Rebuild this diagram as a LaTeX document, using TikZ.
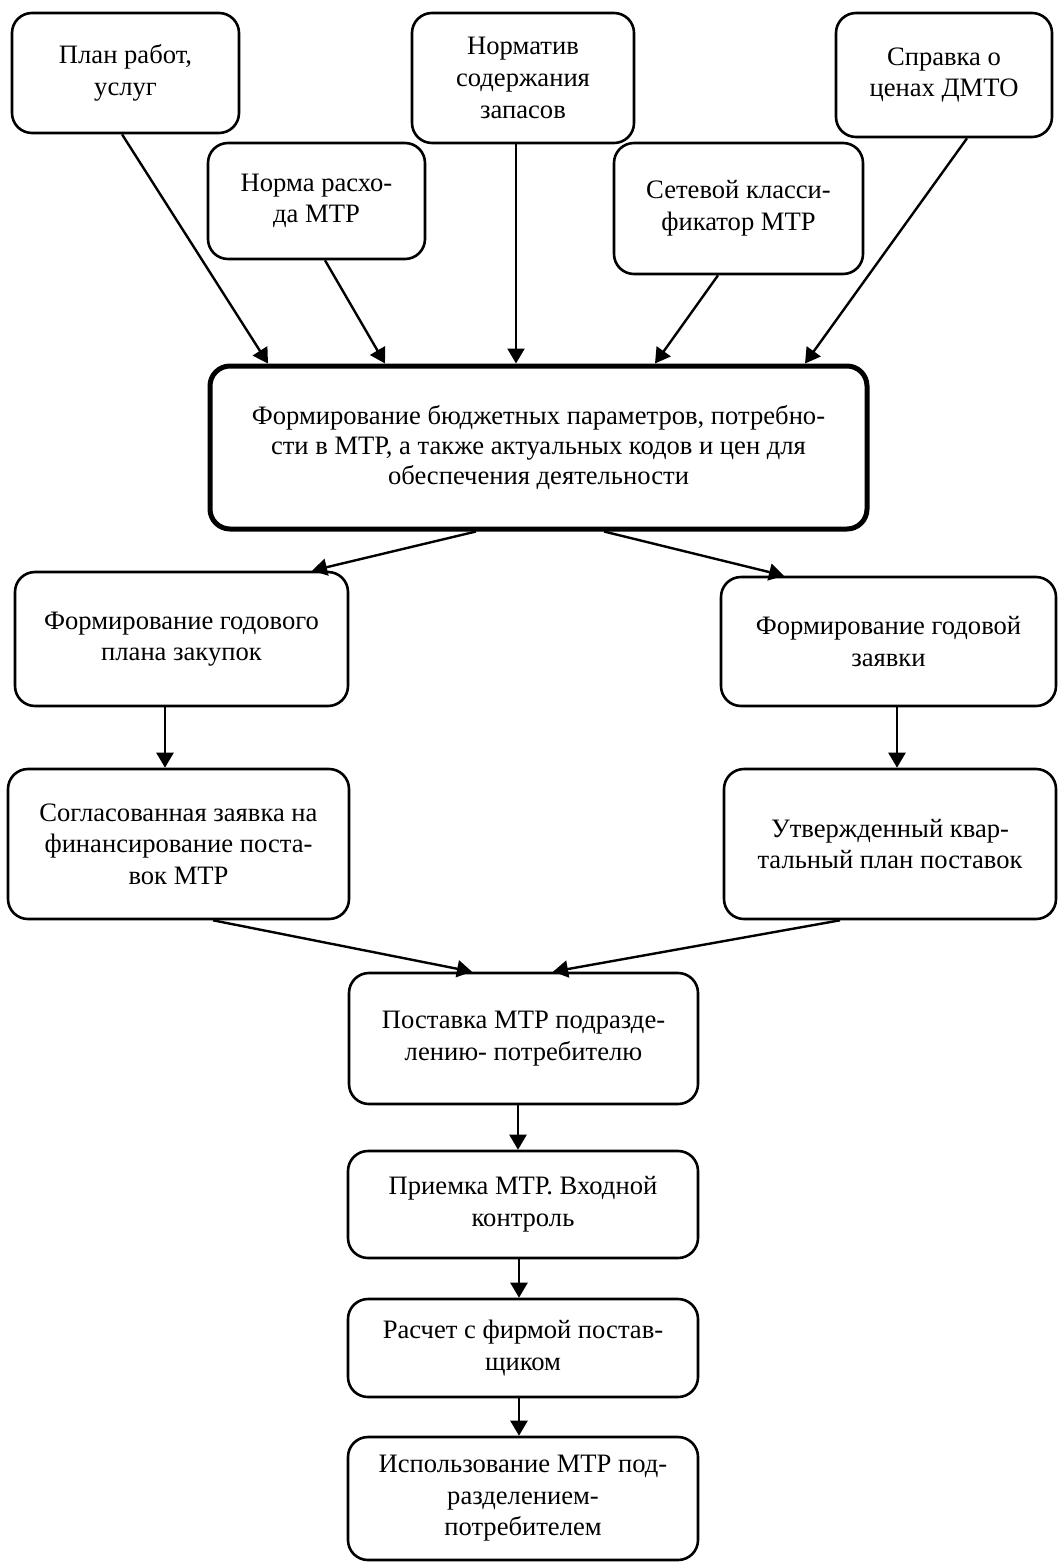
\documentclass[tikz,border=0pt]{standalone}
\usepackage{fontspec}
\setmainfont{Liberation Serif}
\usetikzlibrary{arrows.meta}

\begin{document}
\begin{tikzpicture}[x=0.5pt,y=-0.5pt,>={Triangle[length=7.5pt,width=8.5pt]},
	blk/.style={draw,line width=1.3pt,rounded corners=10pt,align=center,inner sep=0pt,font=\fontsize{13.3}{15.8}\selectfont},
	arr/.style={->,line width=1.2pt}]
	\useasboundingbox(0,0) rectangle (1058,1562);
	\node[blk,minimum width=113.5pt,minimum height=60pt](plan) at (125.5,73){План работ,\\услуг};
	\node[blk,minimum width=108.5pt,minimum height=58pt](norma) at (316.5,201){Норма расхо-\\да МТР};
	\node[blk,minimum width=111pt,minimum height=65pt](normativ) at (523,78){Норматив\\содержания\\запасов};
	\node[blk,minimum width=124.5pt,minimum height=65.5pt](klass) at (738.5,208.5){Сетевой класси-\\фикатор МТР};
	\node[blk,minimum width=108pt,minimum height=62pt](spravka) at (944,75){Справка о\\ценах ДМТО};
	\node[blk,line width=2.5pt,minimum width=328.5pt,minimum height=81.5pt,font=\fontsize{13.3}{15}\selectfont](form) at (538.5,447.5){Формирование бюджетных параметров, потребно-\\сти в МТР, а также актуальных кодов и цен для\\обеспечения деятельности};
	\node[blk,minimum width=166.5pt,minimum height=67pt](zakup) at (181.5,639){Формирование годового\\плана закупок};
	\node[blk,minimum width=167.5pt,minimum height=64.5pt](zayav) at (888.5,641.5){Формирование годовой\\заявки};
	\node[blk,minimum width=170.5pt,minimum height=75pt](fin) at (178.5,844){Согласованная заявка на\\финансирование поста-\\вок МТР};
	\node[blk,minimum width=166pt,minimum height=75pt](kvart) at (890,844){Утвержденный квар-\\тальный план поставок};
	\node[blk,minimum width=174.5pt,minimum height=65.5pt](post) at (523.5,1038.5){Поставка МТР подразде-\\лению- потребителю};
	\node[blk,minimum width=175pt,minimum height=53.5pt](priem) at (523,1204.5){Приемка МТР. Входной\\контроль};
	\node[blk,minimum width=175pt,minimum height=49pt](rasch) at (523,1348){Расчет с фирмой постав-\\щиком};
	\node[blk,minimum width=175pt,minimum height=61.5pt](isp) at (523,1498.5){Использование МТР под-\\разделением-\\потребителем};
	\draw[arr]([xshift=-1.75pt]plan.south)--([xshift=-135.25pt]form.north);
	\draw[arr]([xshift=4.25pt]norma.south)--([xshift=-76.75pt]form.north);
	\draw[arr]([xshift=-3.5pt]normativ.south)--([xshift=-11.25pt]form.north);
	\draw[arr]([xshift=-10.25pt]klass.south)--([xshift=58.25pt]form.north);
	\draw[arr]([xshift=11.5pt]spravka.south)--([xshift=133.25pt]form.north);
	\draw[arr]([xshift=-31.25pt]form.south)--([xshift=65.25pt]zakup.north);
	\draw[arr]([xshift=32.75pt]form.south)--([xshift=-52.25pt]zayav.north);
	\draw[arr]([xshift=-8.25pt]zakup.south)--([xshift=-6.75pt]fin.north);
	\draw[arr]([xshift=4.25pt]zayav.south)--([xshift=3.5pt]kvart.north);
	\draw[arr]([xshift=17.25pt]fin.south)--([xshift=-25.75pt]post.north);
	\draw[arr]([xshift=-25pt]kvart.south)--([xshift=14.75pt]post.north);
	\draw[arr]([xshift=-2.75pt]post.south)--([xshift=-2.5pt]priem.north);
	\draw[arr]([xshift=-2pt]priem.south)--([xshift=-2pt]rasch.north);
	\draw[arr]([xshift=-2pt]rasch.south)--([xshift=-2pt]isp.north);
\end{tikzpicture}
\end{document}
